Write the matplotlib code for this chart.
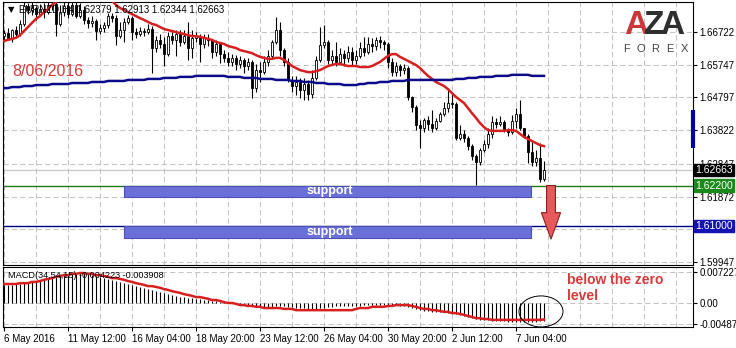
import numpy as np
import matplotlib
matplotlib.use("Agg")
import matplotlib.pyplot as plt
from matplotlib.patches import Rectangle, Polygon, Ellipse
from matplotlib.transforms import blended_transform_factory

plt.rcParams['font.family'] = ['Liberation Sans', 'DejaVu Sans']

# EURNZD H4 candles (6 May - 8 Jun 2016), open of a bar = close of the previous one
first_open = 1.6660
closes = [1.6669, 1.6655, 1.6678, 1.6666, 1.6696, 1.6749, 1.6737, 1.6743, 1.6725, 1.6740,
          1.6731, 1.6749, 1.6755, 1.6696, 1.6731, 1.6749, 1.6725, 1.6752, 1.6719, 1.6737,
          1.6708, 1.6699, 1.6705, 1.6675, 1.6684, 1.6693, 1.6719, 1.6713, 1.6660, 1.6678,
          1.6702, 1.6713, 1.6672, 1.6666, 1.6675, 1.6672, 1.6681, 1.6625, 1.6649, 1.6637,
          1.6607, 1.6660, 1.6649, 1.6666, 1.6643, 1.6660, 1.6625, 1.6655, 1.6660, 1.6637,
          1.6655, 1.6649, 1.6613, 1.6637, 1.6607, 1.6596, 1.6584, 1.6596, 1.6578, 1.6590,
          1.6572, 1.6584, 1.6507, 1.6560, 1.6554, 1.6584, 1.6602, 1.6643, 1.6678, 1.6619,
          1.6584, 1.6531, 1.6513, 1.6525, 1.6501, 1.6519, 1.6489, 1.6537, 1.6590, 1.6634,
          1.6643, 1.6590, 1.6602, 1.6584, 1.6607, 1.6596, 1.6613, 1.6590, 1.6602, 1.6625,
          1.6613, 1.6637, 1.6631, 1.6649, 1.6643, 1.6637, 1.6584, 1.6554, 1.6572, 1.6560,
          1.6566, 1.6481, 1.6451, 1.6398, 1.6389, 1.6413, 1.6401, 1.6389, 1.6410, 1.6431,
          1.6448, 1.6463, 1.6460, 1.6360, 1.6372, 1.6360, 1.6336, 1.6307, 1.6289, 1.6325,
          1.6342, 1.6372, 1.6407, 1.6401, 1.6407, 1.6386, 1.6378, 1.6410, 1.6431, 1.6389,
          1.6366, 1.6319, 1.6289, 1.6301, 1.6238, 1.62663]
highs = [1.6678, 1.6684, 1.6681, 1.6690, 1.6708, 1.6761, 1.6758, 1.6761, 1.6749, 1.6755,
         1.6758, 1.6764, 1.6767, 1.6761, 1.6752, 1.6767, 1.6761, 1.6767, 1.6761, 1.6758,
         1.6749, 1.6716, 1.6719, 1.6710, 1.6696, 1.6702, 1.6728, 1.6728, 1.6722, 1.6702,
         1.6713, 1.6722, 1.6719, 1.6684, 1.6687, 1.6684, 1.6696, 1.6690, 1.6660, 1.6666,
         1.6658, 1.6672, 1.6672, 1.6678, 1.6678, 1.6678, 1.6702, 1.6678, 1.6672, 1.6666,
         1.6666, 1.6666, 1.6649, 1.6649, 1.6643, 1.6619, 1.6613, 1.6607, 1.6604, 1.6602,
         1.6596, 1.6596, 1.6590, 1.6578, 1.6584, 1.6602, 1.6619, 1.6649, 1.6716, 1.6702,
         1.6625, 1.6596, 1.6543, 1.6543, 1.6537, 1.6537, 1.6531, 1.6560, 1.6602, 1.6687,
         1.6693, 1.6649, 1.6619, 1.6643, 1.6625, 1.6619, 1.6631, 1.6628, 1.6619, 1.6643,
         1.6658, 1.6658, 1.6655, 1.6658, 1.6660, 1.6649, 1.6643, 1.6596, 1.6584, 1.6578,
         1.6578, 1.6572, 1.6484, 1.6457, 1.6413, 1.6419, 1.6425, 1.6442, 1.6419, 1.6437,
         1.6466, 1.6507, 1.6490, 1.6466, 1.6398, 1.6384, 1.6366, 1.6342, 1.6313, 1.6330,
         1.6354, 1.6389, 1.6425, 1.6419, 1.6425, 1.6413, 1.6389, 1.6428, 1.6448, 1.6472,
         1.6389, 1.6372, 1.6348, 1.6325, 1.6345, 1.62913]
lows = [1.6643, 1.6649, 1.6643, 1.6655, 1.6660, 1.6690, 1.6725, 1.6722, 1.6708, 1.6719,
        1.6713, 1.6725, 1.6737, 1.6660, 1.6690, 1.6719, 1.6713, 1.6719, 1.6713, 1.6713,
        1.6696, 1.6684, 1.6687, 1.6649, 1.6666, 1.6672, 1.6684, 1.6702, 1.6634, 1.6655,
        1.6643, 1.6696, 1.6649, 1.6655, 1.6660, 1.6660, 1.6666, 1.6551, 1.6613, 1.6625,
        1.6572, 1.6601, 1.6637, 1.6602, 1.6631, 1.6637, 1.6590, 1.6596, 1.6643, 1.6584,
        1.6625, 1.6631, 1.6596, 1.6602, 1.6581, 1.6584, 1.6572, 1.6572, 1.6560, 1.6566,
        1.6551, 1.6560, 1.6478, 1.6495, 1.6525, 1.6549, 1.6572, 1.6596, 1.6637, 1.6602,
        1.6572, 1.6525, 1.6495, 1.6487, 1.6478, 1.6472, 1.6472, 1.6478, 1.6531, 1.6584,
        1.6625, 1.6578, 1.6578, 1.6572, 1.6578, 1.6572, 1.6584, 1.6572, 1.6578, 1.6596,
        1.6602, 1.6607, 1.6613, 1.6619, 1.6625, 1.6619, 1.6566, 1.6543, 1.6543, 1.6543,
        1.6549, 1.6472, 1.6437, 1.6384, 1.6330, 1.6378, 1.6384, 1.6378, 1.6384, 1.6407,
        1.6425, 1.6437, 1.6448, 1.6354, 1.6355, 1.6348, 1.6325, 1.6295, 1.6222, 1.6280,
        1.6319, 1.6330, 1.6360, 1.6389, 1.6395, 1.6378, 1.6366, 1.6372, 1.6389, 1.6384,
        1.6360, 1.6286, 1.6277, 1.6277, 1.6230, 1.62344]

# moving averages as drawn on the chart
red_ma = [1.6646, 1.6649, 1.6652, 1.6655, 1.6663, 1.6675, 1.6687, 1.6699, 1.6711, 1.6719,
          1.6731, 1.6740, 1.6752, 1.6761, 1.6767, 1.6772, 1.6778, 1.6781, 1.6784, 1.6784,
          1.6784, 1.6781, 1.6781, 1.6778, 1.6775, 1.6772, 1.6769, 1.6764, 1.6752, 1.6743,
          1.6737, 1.6731, 1.6725, 1.6719, 1.6713, 1.6708, 1.6702, 1.6696, 1.6693, 1.6687,
          1.6681, 1.6678, 1.6675, 1.6672, 1.6669, 1.6666, 1.6663, 1.6660, 1.6660, 1.6658,
          1.6655, 1.6652, 1.6649, 1.6643, 1.6640, 1.6637, 1.6631, 1.6628, 1.6625, 1.6619,
          1.6616, 1.6613, 1.6610, 1.6604, 1.6599, 1.6596, 1.6593, 1.6593, 1.6596, 1.6596,
          1.6590, 1.6581, 1.6572, 1.6566, 1.6560, 1.6557, 1.6554, 1.6554, 1.6557, 1.6560,
          1.6566, 1.6572, 1.6575, 1.6578, 1.6578, 1.6575, 1.6572, 1.6572, 1.6572, 1.6569,
          1.6569, 1.6569, 1.6572, 1.6578, 1.6584, 1.6593, 1.6602, 1.6607, 1.6607, 1.6599,
          1.6593, 1.6587, 1.6581, 1.6575, 1.6566, 1.6554, 1.6543, 1.6534, 1.6525, 1.6519,
          1.6513, 1.6504, 1.6492, 1.6481, 1.6472, 1.6463, 1.6448, 1.6433, 1.6419, 1.6404,
          1.6392, 1.6383, 1.6381, 1.6381, 1.6381, 1.6381, 1.6383, 1.6383, 1.6381, 1.6372,
          1.6363, 1.6357, 1.6351, 1.6345, 1.6339, 1.6336]
blue_ma = [1.6507, 1.6507, 1.6510, 1.6510, 1.6510, 1.6513, 1.6513, 1.6513, 1.6516, 1.6516,
           1.6516, 1.6516, 1.6519, 1.6519, 1.6519, 1.6519, 1.6519, 1.6522, 1.6522, 1.6522,
           1.6522, 1.6522, 1.6525, 1.6525, 1.6525, 1.6525, 1.6528, 1.6528, 1.6528, 1.6528,
           1.6528, 1.6531, 1.6531, 1.6531, 1.6531, 1.6531, 1.6534, 1.6534, 1.6534, 1.6534,
           1.6537, 1.6537, 1.6537, 1.6537, 1.6540, 1.6540, 1.6540, 1.6540, 1.6543, 1.6543,
           1.6543, 1.6543, 1.6543, 1.6543, 1.6543, 1.6543, 1.6540, 1.6540, 1.6540, 1.6540,
           1.6537, 1.6537, 1.6537, 1.6537, 1.6534, 1.6534, 1.6534, 1.6534, 1.6531, 1.6531,
           1.6531, 1.6531, 1.6528, 1.6528, 1.6528, 1.6525, 1.6525, 1.6525, 1.6522, 1.6522,
           1.6522, 1.6519, 1.6519, 1.6519, 1.6519, 1.6516, 1.6516, 1.6516, 1.6516, 1.6519,
           1.6519, 1.6522, 1.6522, 1.6522, 1.6525, 1.6525, 1.6525, 1.6528, 1.6528, 1.6528,
           1.6528, 1.6531, 1.6531, 1.6531, 1.6531, 1.6531, 1.6531, 1.6531, 1.6531, 1.6531,
           1.6531, 1.6531, 1.6531, 1.6534, 1.6534, 1.6534, 1.6537, 1.6537, 1.6537, 1.6540,
           1.6540, 1.6540, 1.6540, 1.6543, 1.6543, 1.6543, 1.6543, 1.6546, 1.6546, 1.6546,
           1.6546, 1.6546, 1.6543, 1.6543, 1.6543, 1.6543]

# MACD main (histogram) and signal line
macd = [0.0043, 0.0043, 0.0043, 0.0045, 0.0045, 0.0047, 0.0047, 0.0050, 0.0052, 0.0055,
        0.0057, 0.0059, 0.0062, 0.0064, 0.0066, 0.0069, 0.0069, 0.0071, 0.0071, 0.0071,
        0.0071, 0.0069, 0.0066, 0.0064, 0.0062, 0.0059, 0.0057, 0.0055, 0.0052, 0.0050,
        0.0047, 0.0045, 0.0043, 0.0040, 0.0038, 0.0036, 0.0033, 0.0031, 0.0028, 0.0026,
        0.0024, 0.0021, 0.0019, 0.0017, 0.0014, 0.0014, 0.0012, 0.0012, 0.0010, 0.0010,
        0.0007, 0.0007, 0.0005, 0.0005, 0.0002, 0.0002, 0.0002, 0.0000, -0.0001, -0.0002,
        -0.0005, -0.0005, -0.0007, -0.0007, -0.0007, -0.0009, -0.0009, -0.0009, -0.0007, -0.0007,
        -0.0007, -0.0009, -0.0009, -0.0012, -0.0012, -0.0012, -0.0014, -0.0014, -0.0014, -0.0012,
        -0.0012, -0.0009, -0.0009, -0.0007, -0.0007, -0.0007, -0.0007, -0.0007, -0.0007, -0.0007,
        -0.0005, -0.0005, -0.0005, -0.0005, -0.0005, -0.0005, -0.0005, -0.0005, -0.0005, -0.0007,
        -0.0007, -0.0009, -0.0012, -0.0014, -0.0017, -0.0019, -0.0019, -0.0021, -0.0021, -0.0021,
        -0.0021, -0.0024, -0.0024, -0.0026, -0.0028, -0.0031, -0.0033, -0.0036, -0.0038, -0.0040,
        -0.0040, -0.0040, -0.0043, -0.0043, -0.0043, -0.0043, -0.0045, -0.0045, -0.0045, -0.0045,
        -0.0045, -0.0045, -0.0045, -0.0045, -0.0043, -0.004223]
signal = [0.0045, 0.0045, 0.0045, 0.0045, 0.0047, 0.0047, 0.0047, 0.0050, 0.0050, 0.0052,
          0.0055, 0.0057, 0.0059, 0.0062, 0.0064, 0.0066, 0.0066, 0.0069, 0.0069, 0.0071,
          0.0071, 0.0069, 0.0069, 0.0066, 0.0066, 0.0064, 0.0062, 0.0059, 0.0059, 0.0057,
          0.0055, 0.0052, 0.0050, 0.0047, 0.0045, 0.0043, 0.0040, 0.0040, 0.0038, 0.0036,
          0.0033, 0.0031, 0.0028, 0.0026, 0.0024, 0.0021, 0.0019, 0.0017, 0.0014, 0.0014,
          0.0012, 0.0010, 0.0007, 0.0007, 0.0005, 0.0002, 0.0000, 0.0000, -0.0002, -0.0005,
          -0.0005, -0.0007, -0.0007, -0.0009, -0.0009, -0.0012, -0.0012, -0.0012, -0.0012, -0.0012,
          -0.0014, -0.0014, -0.0014, -0.0017, -0.0017, -0.0017, -0.0017, -0.0017, -0.0017, -0.0017,
          -0.0017, -0.0017, -0.0017, -0.0017, -0.0017, -0.0017, -0.0017, -0.0017, -0.0014, -0.0012,
          -0.0012, -0.0012, -0.0009, -0.0009, -0.0009, -0.0009, -0.0007, -0.0007, -0.0005, -0.0005,
          -0.0005, -0.0005, -0.0007, -0.0009, -0.0012, -0.0014, -0.0014, -0.0017, -0.0017, -0.0019,
          -0.0021, -0.0021, -0.0024, -0.0024, -0.0026, -0.0028, -0.0031, -0.0033, -0.0036, -0.0036,
          -0.0038, -0.0038, -0.0040, -0.0040, -0.0040, -0.0040, -0.0040, -0.0040, -0.0040, -0.0040,
          -0.0040, -0.0040, -0.0040, -0.0040, -0.0040, -0.003908]

price_ticks = [1.66722, 1.65747, 1.64797, 1.63822, 1.62847, 1.61872, 1.60922, 1.59947]
macd_ticks = [0.007227, 0.0, -0.004873]
macd_tick_labels = ["0.007227", "0.00", "-0.004873"]
date_pos = [0, 16, 32, 48, 64, 80, 96, 112, 128]
date_labels = ["6 May 2016", "11 May 12:00", "16 May 04:00", "18 May 20:00", "23 May 12:00",
               "26 May 04:00", "30 May 20:00", "2 Jun 12:00", "7 Jun 04:00"]

last_price = 1.62663
level_1 = 1.62200
level_2 = 1.61000
support_1 = (1.6186, 1.6220)
support_2 = (1.6065, 1.6100)

W, H = 736, 348

def box(l, t, r, b):
    # pixel box -> figure fraction
    return [l / W, 1 - b / H, (r - l) / W, (b - t) / H]

fig = plt.figure(figsize=(W / 100, H / 100), dpi=100)
ax = fig.add_axes(box(3, 2, 693, 265))
ax2 = fig.add_axes(box(3, 267, 693, 327), sharex=ax)

grid_kw = dict(color='#c4c4c4', ls=(0, (5, 3)), lw=0.75)

c = np.array(closes)
o = np.array([first_open] + closes[:-1])
hi = np.array(highs)
lo = np.array(lows)
idx = np.arange(len(c))
up = c >= o

# candles
ax.vlines(idx, lo, hi, color='black', lw=0.8, zorder=3)
ax.bar(idx[up], (c - o)[up], bottom=o[up], width=0.6, color='white',
       edgecolor='black', lw=0.6, zorder=4)
ax.bar(idx[~up], (o - c)[~up], bottom=c[~up], width=0.6, color='black',
       edgecolor='black', lw=0.6, zorder=4)

ax.plot(idx, red_ma, color='#d71f1f', lw=1.8, zorder=5)
ax.plot(idx, blue_ma, color='#0c0c8a', lw=1.8, zorder=5)

ax.axhline(last_price, color='#c8c8c8', lw=0.9, zorder=1)
ax.axhline(level_1, color='#1f7a1f', lw=1.0, zorder=2)
ax.axhline(level_2, color='#000080', lw=1.0, zorder=2)

# support zones
for lo_, hi_ in (support_1, support_2):
    ax.add_patch(Rectangle((30, lo_), 101.75, hi_ - lo_, fc='#6b6fd8', ec='#4c50b8',
                           lw=0.8, zorder=6))
    ax.text(81.5, (lo_ + hi_) / 2, "support", color='white', fontsize=9, fontweight='bold',
            ha='center', va='center', zorder=7)

# red down arrow
cx = 136.75
arrow = [(cx - 1.1, level_1), (cx + 1.1, level_1), (cx + 1.1, 1.6140), (cx + 2.4, 1.6140),
         (cx, 1.6062), (cx - 2.4, 1.6140), (cx - 1.1, 1.6140)]
ax.add_patch(Polygon(arrow, closed=True, fc='#e65a5c', ec='#8e1c1c', lw=0.8, zorder=6))

ax.set_xlim(-0.25, 172.25)
ax.set_ylim(1.59858, 1.67606)
ax.set_yticks(price_ticks)
ax.set_yticklabels(["%.5f" % p for p in price_ticks])
ax.set_xticks(np.arange(0, 172, 8), minor=True)
ax.set_xticks(date_pos)
ax.grid(True, which='both', **grid_kw)
ax.tick_params(axis='x', which='both', bottom=False, labelbottom=False)
ax.tick_params(axis='y', left=False, labelleft=False, right=True, labelright=True,
               length=3, width=0.8, pad=1.5, labelsize=7)
for s in ax.spines.values():
    s.set_linewidth(0.8)
    s.set_color('black')

tr = blended_transform_factory(ax.transAxes, ax.transData)
ax.plot([1.0, 1.0], [1.6442, 1.6331], transform=tr, color='#0000a0', lw=3,
        solid_capstyle='butt', clip_on=False, zorder=8)
for val, fc in ((last_price, 'black'), (level_1, '#1a8a1a'), (level_2, '#1414b4')):
    ax.text(1.003, val, "%.5f" % val, transform=tr, color='white', fontsize=7.5, ha='left',
            va='center', zorder=9, clip_on=False,
            bbox=dict(boxstyle='square,pad=0.12', fc=fc, ec=fc))

# MACD panel
ax2.vlines(idx, 0, macd, color='black', lw=0.8, zorder=3)
ax2.plot(idx, signal, color='#d71f1f', lw=1.8, zorder=4)
ax2.set_ylim(-0.00569, 0.00853)
ax2.set_yticks(macd_ticks)
ax2.set_yticklabels(macd_tick_labels)
ax2.set_xticks(date_pos)
ax2.set_xticklabels(date_labels, ha='left')
ax2.set_xticks(np.arange(0, 172, 8), minor=True)
ax2.grid(True, which='both', **grid_kw)
ax2.tick_params(axis='y', left=False, labelleft=False, right=True, labelright=True,
                length=3, width=0.8, pad=1.5, labelsize=7)
ax2.tick_params(axis='x', which='major', length=3, width=0.8, pad=2, labelsize=7)
ax2.tick_params(axis='x', which='minor', length=0)
for s in ax2.spines.values():
    s.set_linewidth(0.8)
    s.set_color('black')

ax2.add_patch(Ellipse((134.25, -0.0020), 11, 0.00735, fill=False, ec='black', lw=0.7,
                      clip_on=False, zorder=6))
ax2.text(140.75, 0.0070, "below the zero\nlevel", color='#d63a3a', fontsize=10,
         fontweight='bold', ha='left', va='top', linespacing=1.1)

# header texts
fig.text(8 / W, 1 - 10 / H, "\u25bc", fontsize=6, va='center', family='DejaVu Sans')
fig.text(19 / W, 1 - 10 / H, "EURNZD,H4 1.62379 1.62913 1.62344 1.62663", fontsize=6.9,
         va='center')
fig.text(12 / W, 1 - 71 / H, "8/06/2016", color='#d63a3a', fontsize=11.5, va='center')
fig.text(8 / W, 1 - 276 / H, "MACD(34,54,15) -0.004223 -0.003908", fontsize=6.6,
         va='center', zorder=10)

# AZA FOREX logo
for x, ch, col in ((636, "A", '#c9373a'), (654, "Z", '#2e2e2e'), (672, "A", '#2e2e2e')):
    fig.text(x / W, 1 - 25 / H, ch, color=col, fontsize=24, fontweight='bold',
             ha='center', va='center')
for x, ch in zip((627, 641, 655, 670, 684), "FOREX"):
    fig.text(x / W, 1 - 49 / H, ch, color='#444444', fontsize=8, ha='center', va='center')

fig.savefig("out.png", dpi=100, facecolor='white')
